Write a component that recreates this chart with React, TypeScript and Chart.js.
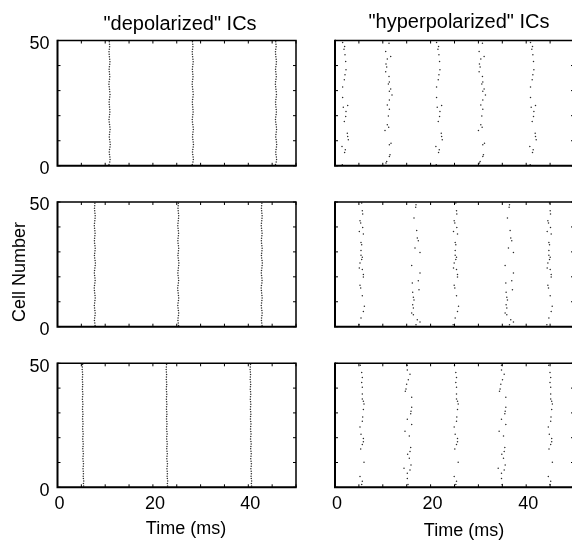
import React, { useEffect, useRef } from "react";
import { Chart, registerables } from "chart.js";

Chart.register(...registerables);

// ---------- axes ----------
const X_MIN = 0;
const X_MAX = 50;
const Y_MIN = 0;
const Y_MAX = 50;
const X_TICK_STEP = 5;
const Y_TICK_STEP = 10;
const X_TICK_LABELS = [0, 20, 40];
const Y_TICK_LABELS = [0, 50];

// ---------- "depolarized" ICs: volley times (ms) and per-cell jitter (ms), cells 1..50 bottom->top ----------
const depolTopVolleys = [10.9, 28.35, 45.8];
const depolTopJitter = [
  -0.1, 0.05, 0.12, 0.08, 0.0, -0.05, 0.02, 0.1, 0.15, 0.1,
  0.03, -0.04, 0.0, 0.06, 0.12, 0.08, 0.02, -0.06, -0.1, -0.04,
  0.03, 0.08, 0.05, 0.0, -0.05, -0.08, -0.02, 0.05, 0.1, 0.06,
  0.0, -0.06, -0.12, -0.08, 0.0, 0.06, 0.02, -0.04, -0.08, -0.02,
  0.05, 0.09, 0.04, -0.02, -0.07, -0.1, -0.04, 0.03, 0.0, -0.05,
];

const depolMidVolleys = [7.8, 25.3, 42.8];
const depolMidJitter = [
  0.08, 0.02, -0.05, -0.02, 0.06, 0.1, 0.04, -0.03, -0.08, -0.02,
  0.05, 0.1, 0.06, 0.0, -0.06, -0.1, -0.04, 0.04, 0.09, 0.05,
  -0.02, -0.07, -0.03, 0.04, 0.1, 0.14, 0.08, 0.0, -0.05, 0.0,
  0.06, 0.1, 0.05, -0.02, -0.06, -0.02, 0.04, 0.08, 0.03, -0.03,
  -0.08, -0.04, 0.02, 0.07, 0.1, 0.05, 0.0, -0.04, 0.0, 0.04,
];

const depolBotVolleys = [5.3, 22.9, 40.5];
const depolBotJitter = [
  0.18, 0.14, 0.2, 0.12, 0.08, 0.14, 0.1, 0.04, 0.1, 0.15,
  0.08, 0.02, 0.06, 0.12, 0.06, 0.0, 0.04, 0.1, 0.05, -0.02,
  0.02, 0.08, 0.03, -0.03, 0.0, 0.06, 0.02, -0.05, -0.02, 0.04,
  0.0, -0.06, -0.03, 0.03, -0.02, -0.08, -0.04, 0.02, -0.03, -0.09,
  -0.05, 0.0, -0.04, -0.1, -0.06, -0.02, -0.07, -0.12, -0.08, -0.04,
];

// ---------- "hyperpolarized" ICs: two alternating volley shapes per panel ----------
// cells (cell number) and spike times (ms) of the first volley of each shape; shape repeats at the given shifts (ms)
const hyperTopACells = [49.2, 47.6, 46.5, 44.3, 41.6, 38.3, 36.3, 34.3, 31.4, 27.3, 24.1, 23.4, 21.7, 19.7, 17.7, 13.0, 11.7, 10.4, 7.7, 6.4, 5.3, 0.4];
const hyperTopATimes = [1.6, 2.02, 1.88, 2.09, 2.23, 2.3, 2.09, 1.95, 1.6, 1.6, 2.65, 1.74, 2.3, 2.23, 1.95, 2.58, 2.65, 2.79, 1.46, 2.16, 2.02, 1.53];
const hyperTopAShifts = [0, 19.65, 39.3];
const hyperTopBCells = [48.9, 45.6, 43.6, 42.6, 40.6, 39.4, 37.5, 35.6, 33.4, 32.6, 30.6, 29.7, 28.3, 26.3, 24.3, 22.6, 19.9, 16.4, 15.4, 14.1, 9.0, 8.4, 4.4, 3.7, 1.7, 1.1];
const hyperTopBTimes = [11.3, 10.6, 11.65, 10.95, 10.67, 10.81, 10.6, 11.3, 11.37, 11.16, 11.65, 11.37, 11.92, 11.37, 10.95, 11.37, 11.16, 10.95, 11.23, 10.46, 11.72, 11.37, 11.51, 11.37, 10.81, 10.67];
const hyperTopBShifts = [0, 19.55];

const hyperMidACells = [49.6, 46.5, 45.2, 42.5, 41.6, 39.8, 38.2, 37.2, 33.8, 32.9, 30.6, 28.6, 27.8, 26.9, 25.5, 23.5, 22.9, 20.9, 19.9, 16.6, 15.5, 12.4, 8.2, 6.1, 3.5, 0.8];
const hyperMidATimes = [5.58, 5.72, 5.79, 5.23, 5.37, 5.79, 5.09, 5.93, 5.44, 5.58, 5.44, 5.44, 5.72, 5.58, 5.23, 5.09, 5.72, 5.93, 5.93, 5.23, 5.37, 5.72, 6.14, 5.93, 5.44, 5.02];
const hyperMidAShifts = [0, 19.7, 39.3];
const hyperMidBCells = [48.9, 47.9, 43.6, 38.6, 35.6, 34.5, 31.6, 29.8, 24.5, 21.5, 18.4, 17.5, 14.8, 13.8, 11.8, 10.7, 8.8, 7.5, 5.5, 4.8, 2.8, 1.9, 0.8];
const hyperMidBTimes = [16.95, 16.88, 16.53, 17.09, 17.22, 17.43, 16.74, 17.78, 16.04, 17.78, 17.43, 16.18, 17.57, 16.25, 16.39, 16.53, 16.25, 16.39, 16.04, 16.39, 17.22, 17.78, 16.95];
const hyperMidBShifts = [0, 19.55];

const hyperBotACells = [49.2, 46.3, 44.3, 42.3, 40.3, 37.6, 35.6, 34.7, 33.6, 31.4, 28.3, 26.6, 24.3, 21.4, 19.7, 18.4, 17.3, 15.4, 10.1, 4.4, 2.4, 1.1];
const hyperBotATimes = [5.3, 5.58, 5.72, 5.58, 5.72, 5.72, 5.72, 5.93, 6.07, 5.93, 5.79, 5.72, 5.23, 5.44, 5.93, 5.93, 5.72, 5.37, 6.07, 5.23, 5.72, 5.58];
const hyperBotAShifts = [0, 19.7, 39.4];
const hyperBotBCells = [49.2, 47.3, 45.6, 43.4, 41.6, 39.6, 38.7, 36.3, 32.3, 30.7, 29.7, 27.4, 25.3, 22.6, 20.7, 16.0, 14.4, 13.3, 11.7, 9.0, 7.7, 7.0, 5.7, 3.5, 1.1];
const hyperBotBTimes = [15.13, 15.13, 15.69, 15.34, 14.99, 14.85, 14.71, 16.04, 16.04, 15.9, 15.83, 15.13, 16.04, 14.64, 15.55, 15.83, 15.69, 15.2, 15.55, 15.9, 14.44, 15.69, 15.13, 15.13, 15.27];
const hyperBotBShifts = [0, 19.7];

// ---------- helpers ----------
type Pt = { x: number; y: number };

function depolPoints(volleys: number[], jitter: number[]): Pt[] {
  const pts: Pt[] = [];
  volleys.forEach((t) => jitter.forEach((j, i) => pts.push({ x: t + j, y: i + 0.5 })));
  return pts;
}

function hyperPoints(shapes: [number[], number[], number[]][]): Pt[] {
  const pts: Pt[] = [];
  shapes.forEach(([cells, times, shifts]) =>
    shifts.forEach((s) => cells.forEach((c, i) => pts.push({ x: times[i] + s, y: c })))
  );
  return pts;
}

const FONT = '"Liberation Sans", Arial, Helvetica, sans-serif';

type Spec = {
  left: number;
  right: number;
  top: number;
  bottom: number;
  yLabels: boolean;
  xLabels: boolean;
  points: Pt[];
};

const COL_L = { left: 57.5, right: 296 };
const COL_R = { left: 335, right: 574 };
const ROWS = [
  { top: 40.5, bottom: 165.8 },
  { top: 202, bottom: 326.7 },
  { top: 363.3, bottom: 487.3 },
];

const SPECS: Spec[] = [
  { ...COL_L, ...ROWS[0], yLabels: true, xLabels: false, points: depolPoints(depolTopVolleys, depolTopJitter) },
  { ...COL_L, ...ROWS[1], yLabels: true, xLabels: false, points: depolPoints(depolMidVolleys, depolMidJitter) },
  { ...COL_L, ...ROWS[2], yLabels: true, xLabels: true, points: depolPoints(depolBotVolleys, depolBotJitter) },
  {
    ...COL_R, ...ROWS[0], yLabels: false, xLabels: false,
    points: hyperPoints([
      [hyperTopACells, hyperTopATimes, hyperTopAShifts],
      [hyperTopBCells, hyperTopBTimes, hyperTopBShifts],
    ]),
  },
  {
    ...COL_R, ...ROWS[1], yLabels: false, xLabels: false,
    points: hyperPoints([
      [hyperMidACells, hyperMidATimes, hyperMidAShifts],
      [hyperMidBCells, hyperMidBTimes, hyperMidBShifts],
    ]),
  },
  {
    ...COL_R, ...ROWS[2], yLabels: false, xLabels: true,
    points: hyperPoints([
      [hyperBotACells, hyperBotATimes, hyperBotAShifts],
      [hyperBotBCells, hyperBotBTimes, hyperBotBShifts],
    ]),
  },
];

const TICK_LEN = 3;

const framePlugin = {
  id: "frame",
  afterDatasetsDraw(chart: any) {
    const { ctx, chartArea: a, scales } = chart;
    const xs = scales.x;
    const ys = scales.y;
    ctx.save();
    ctx.strokeStyle = "#000";
    ctx.lineWidth = 1;
    ctx.beginPath();
    xs.ticks.forEach((t: any) => {
      const px = xs.getPixelForValue(t.value);
      ctx.moveTo(px, a.top);
      ctx.lineTo(px, a.top + TICK_LEN);
      ctx.moveTo(px, a.bottom);
      ctx.lineTo(px, a.bottom - TICK_LEN);
    });
    ys.ticks.forEach((t: any) => {
      const py = ys.getPixelForValue(t.value);
      ctx.moveTo(a.left, py);
      ctx.lineTo(a.left + TICK_LEN, py);
      ctx.moveTo(a.right, py);
      ctx.lineTo(a.right - TICK_LEN, py);
    });
    ctx.stroke();
    ctx.lineWidth = 1.5;
    ctx.beginPath();
    ctx.moveTo(a.left, a.top);
    ctx.lineTo(a.right, a.top);
    ctx.lineTo(a.right, a.bottom);
    ctx.stroke();
    ctx.lineWidth = 2;
    ctx.beginPath();
    ctx.moveTo(a.left, a.top - 0.75);
    ctx.lineTo(a.left, a.bottom);
    ctx.lineTo(a.right + 0.75, a.bottom);
    ctx.stroke();
    ctx.restore();
  },
};

function Panel({ spec }: { spec: Spec }) {
  const ref = useRef<HTMLCanvasElement>(null);
  const PAD_L = 52;
  const PAD_T = 26;
  const PAD_R = 6;
  const PAD_B = spec.xLabels ? 44 : 26;
  const canvasLeft = Math.floor(spec.left) - PAD_L;
  const canvasTop = Math.floor(spec.top) - PAD_T;
  const canvasW = Math.ceil(spec.right) + PAD_R - canvasLeft;
  const canvasH = Math.ceil(spec.bottom) + PAD_B - canvasTop;
  const yAxisWidth = spec.left - canvasLeft;
  const topPad = spec.top - canvasTop;
  const rightPad = canvasW - (spec.right - canvasLeft);
  const xAxisHeight = canvasH - (spec.bottom - canvasTop);

  useEffect(() => {
    if (!ref.current) return;
    const chart = new Chart(ref.current, {
      type: "scatter",
      data: {
        datasets: [
          {
            data: spec.points,
            pointRadius: 0.75,
            pointHoverRadius: 0,
            pointBorderWidth: 0,
            backgroundColor: "#2a2a2a",
            borderColor: "#2a2a2a",
          },
        ],
      },
      options: {
        responsive: false,
        animation: false,
        devicePixelRatio: 1,
        events: [],
        layout: { padding: { left: 0, top: topPad, right: rightPad, bottom: 0 } },
        plugins: { legend: { display: false }, tooltip: { enabled: false } },
        scales: {
          x: {
            type: "linear",
            min: X_MIN,
            max: X_MAX,
            grid: { display: false, drawTicks: false },
            border: { display: false },
            ticks: {
              stepSize: X_TICK_STEP,
              autoSkip: false,
              maxRotation: 0,
              minRotation: 0,
              padding: 6,
              labelOffset: 2,
              color: "#000",
              font: { family: FONT, size: 18 },
              callback: (v: any) => (spec.xLabels && X_TICK_LABELS.includes(Number(v)) ? String(v) : ""),
            },
            afterFit: (s: any) => {
              s.height = xAxisHeight;
            },
          },
          y: {
            type: "linear",
            min: Y_MIN,
            max: Y_MAX,
            grid: { display: false, drawTicks: false },
            border: { display: false },
            ticks: {
              stepSize: Y_TICK_STEP,
              autoSkip: false,
              padding: 8,
              labelOffset: 3.5,
              color: "#000",
              font: { family: FONT, size: 18 },
              callback: (v: any) => (spec.yLabels && Y_TICK_LABELS.includes(Number(v)) ? String(v) : ""),
            },
            afterFit: (s: any) => {
              s.width = yAxisWidth;
            },
          },
        },
      } as any,
      plugins: [framePlugin],
    });
    return () => chart.destroy();
  }, []);

  return (
    <canvas
      ref={ref}
      width={canvasW}
      height={canvasH}
      style={{ position: "absolute", left: canvasLeft, top: canvasTop, width: canvasW, height: canvasH }}
    />
  );
}

const textStyle = (x: number, y: number, size: number, rotate = 0): React.CSSProperties => ({
  position: "absolute",
  left: x,
  top: y,
  transform: `translate(-50%, -50%)${rotate ? ` rotate(${rotate}deg)` : ""}`,
  fontFamily: FONT,
  fontSize: size,
  color: "#000",
  whiteSpace: "nowrap",
  lineHeight: 1,
});

export default function App() {
  return (
    <div
      style={{
        position: "absolute",
        left: 0,
        top: 0,
        width: 572,
        height: 545,
        overflow: "hidden",
        background: "#fff",
      }}
    >
      {SPECS.map((s, i) => (
        <Panel key={i} spec={s} />
      ))}
      <div style={textStyle(180, 23, 20)}>"depolarized" ICs</div>
      <div style={textStyle(459, 21, 20)}>"hyperpolarized" ICs</div>
      <div style={textStyle(18.5, 272, 18, -90)}>Cell Number</div>
      <div style={textStyle(186, 528, 18)}>Time (ms)</div>
      <div style={textStyle(464, 530, 18)}>Time (ms)</div>
    </div>
  );
}
